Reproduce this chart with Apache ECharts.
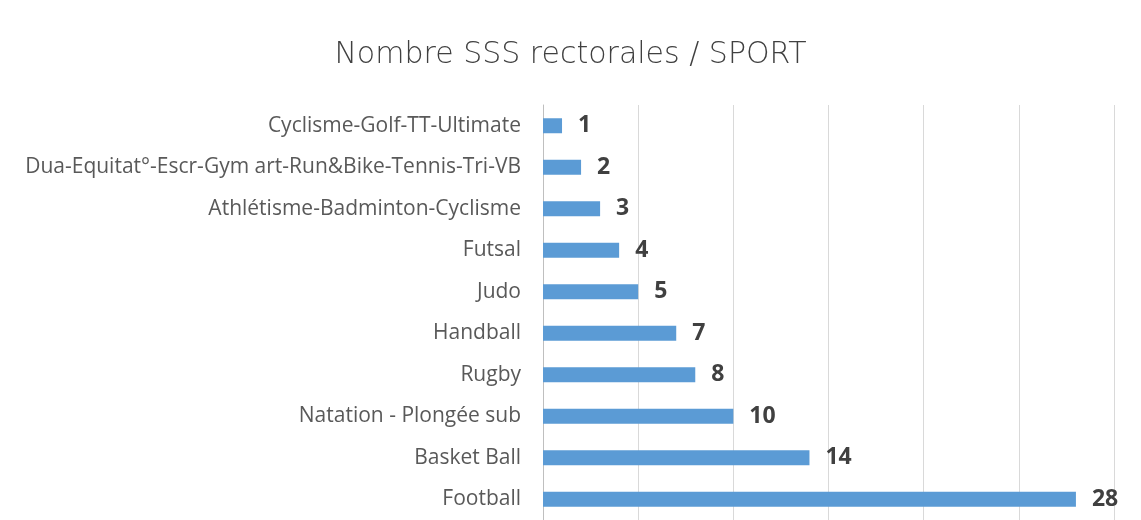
<!DOCTYPE html>
<html>
<head>
<meta charset="utf-8">
<script src="https://cdn.jsdelivr.net/npm/echarts@6/dist/echarts.min.js"></script>
<style>
  html, body { margin: 0; padding: 0; background: #fff; }
  #chart { width: 1141px; height: 520px; }
</style>
</head>
<body>
<div id="chart"></div>
<script>
// donnees (de bas en haut)
var categories = [
  'Football',
  'Basket Ball',
  'Natation - Plongée sub',
  'Rugby',
  'Handball',
  'Judo',
  'Futsal',
  'Athlétisme-Badminton-Cyclisme',
  'Dua-Equitat°-Escr-Gym art-Run&Bike-Tennis-Tri-VB',
  'Cyclisme-Golf-TT-Ultimate'
];
var values = [28, 14, 10, 8, 7, 5, 4, 3, 2, 1];
var axisMax = 30;
var axisStep = 5;

document.addEventListener('DOMContentLoaded', function() {
  var myChart = echarts.init(document.getElementById('chart'));
  var option = {
    animation: false,
    title: {
      text: 'Nombre SSS rectorales / SPORT',
      left: 'center',
      top: 35,
      textStyle: {
        fontFamily: 'DejaVu Sans',
        fontWeight: 200,
        fontSize: 30,
        color: '#404040'
      }
    },
    grid: {
      left: 543,
      right: 27,
      top: 105,
      bottom: 0,
      containLabel: false
    },
    xAxis: {
      type: 'value',
      min: 0,
      max: axisMax,
      interval: axisStep,
      axisLabel: { show: false },
      axisLine: { show: false },
      axisTick: { show: false },
      splitLine: { lineStyle: { color: '#d9d9d9', width: 1 } }
    },
    yAxis: {
      type: 'category',
      data: categories,
      axisLine: { show: true, lineStyle: { color: '#bfbfbf' } },
      axisTick: { show: false },
      axisLabel: {
        margin: 22,
        fontFamily: 'Open Sans',
        fontSize: 21,
        color: '#595959'
      }
    },
    series: [{
      type: 'bar',
      data: values,
      barWidth: 15,
      itemStyle: { color: '#5b9bd5' },
      label: {
        show: true,
        position: 'right',
        distance: 16,
        fontFamily: 'Open Sans',
        fontWeight: 'bold',
        fontSize: 23,
        color: '#404040'
      }
    }]
  };
  myChart.setOption(option);
});
</script>
</body>
</html>
